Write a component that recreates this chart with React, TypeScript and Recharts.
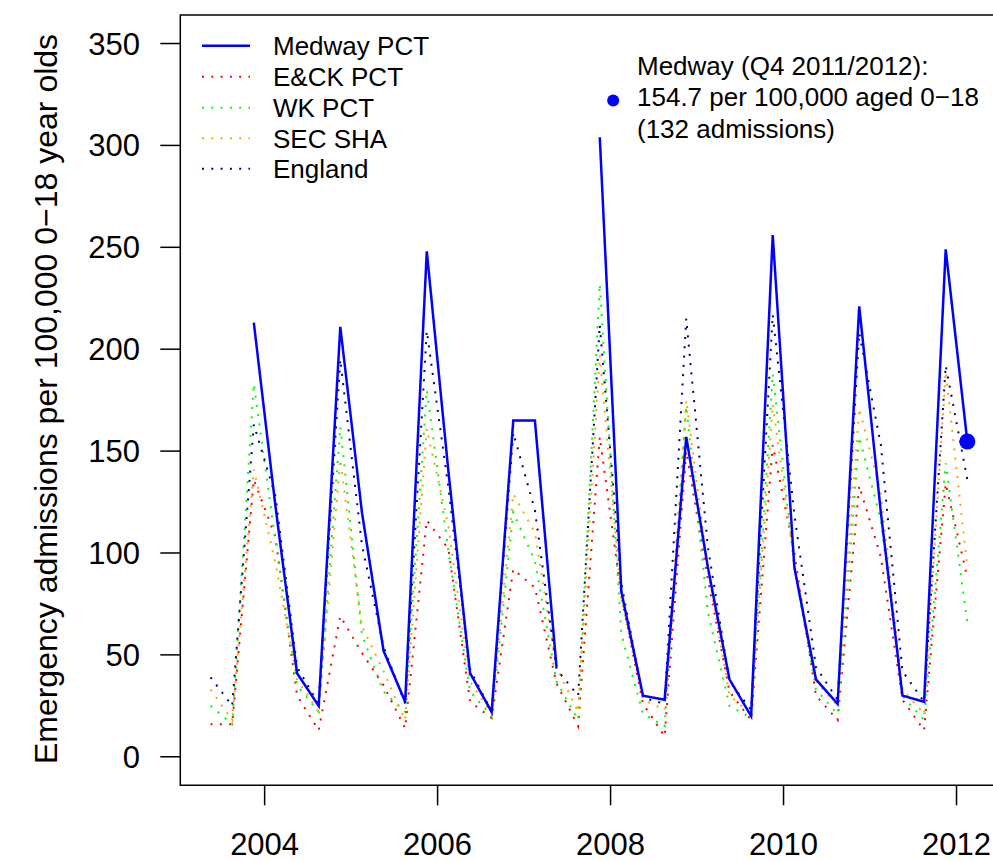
import React from "react";
import { LineChart, Line, XAxis, YAxis, ReferenceArea, ReferenceDot, Legend } from "recharts";

const quarters = [
  2003.375, 2003.625, 2003.875, 2004.125, 2004.375, 2004.625, 2004.875, 2005.125,
  2005.375, 2005.625, 2005.875, 2006.125, 2006.375, 2006.625, 2006.875, 2007.125,
  2007.375, 2007.625, 2007.875, 2008.125, 2008.375, 2008.625, 2008.875, 2009.125,
  2009.375, 2009.625, 2009.875, 2010.125, 2010.375, 2010.625, 2010.875, 2011.125,
  2011.375, 2011.625, 2011.875, 2012.125,
];

const medway = [null, null, 213, 123, 41, 25, 211, 120, 52, 27, 248, 140, 41, 22, 165, 165, 44, null, 304, 81, 30, 28, 157, 93, 38, 20, 256, 93, 38, 26, 221, 120, 30, 27, 249, 154.7];
const eck = [16, 16, 136, 108, 30, 13, 69, 51, 35, 14, 116, 102, 27, 19, 92, 83, 36, 15, 157, 79, 26, 10, 150, 87, 32, 18, 153, 100, 30, 18, 133, 98, 28, 13, 134, 88];
const wk = [25, 16, 183, 106, 35, 22, 162, 60, 32, 22, 180, 101, 32, 20, 120, 96, 37, 18, 232, 60, 21, 15, 172, 71, 25, 19, 188, 93, 33, 21, 157, 116, 30, 18, 144, 66];
const sec = [33, 18, 141, 95, 38, 22, 146, 64, 42, 18, 161, 113, 37, 21, 129, 110, 44, 22, 197, 77, 28, 23, 175, 92, 30, 21, 173, 95, 37, 25, 171, 129, 33, 21, 189, 93];
const england = [39, 25, 163, 128, 44, 26, 195, 104, 54, 26, 209, 132, 43, 22, 159, 121, 43, 30, 212, 85, 29, 26, 215, 103, 37, 23, 217, 119, 44, 28, 208, 153, 42, 27, 192, 136];

const xTicks = [2004, 2006, 2008, 2010, 2012];
const yTicks = [0, 50, 100, 150, 200, 250, 300, 350];
const xDomain = [2003.025, 2012.475];
const yDomain = [-14, 364];

const yLabel = "Emergency admissions per 100,000 0\u221218 year olds";
const annotationLines = ["Medway (Q4 2011/2012):", "154.7 per 100,000 aged 0\u221218", "(132 admissions)"];
const annotationPoint = { x: 2008.03, y: 322 };

const series = [
  { key: "medway", name: "Medway PCT", color: "#0000FF", dash: undefined as string | undefined, width: 2.5 },
  { key: "eck", name: "E&CK PCT", color: "#FF0000", dash: "2 7.3", width: 2 },
  { key: "wk", name: "WK PCT", color: "#00FF00", dash: "2 7.3", width: 2 },
  { key: "sec", name: "SEC SHA", color: "#FFA500", dash: "2 7.3", width: 2 },
  { key: "england", name: "England", color: "#000080", dash: "2 7.3", width: 2 },
];

const data = quarters.map((q, i) => ({
  x: q,
  medway: medway[i],
  eck: eck[i],
  wk: wk[i],
  sec: sec[i],
  england: england[i],
}));

const FONT = "'Liberation Sans', Arial, Helvetica, sans-serif";

const YTick = (props: any) => {
  const { y, payload } = props;
  return (
    <text x={140} y={y + 11} textAnchor="end" fontSize={31} fontFamily={FONT} fill="#000">
      {payload.value}
    </text>
  );
};

const XTick = (props: any) => {
  const { x, payload } = props;
  return (
    <text x={x} y={855} textAnchor="middle" fontSize={31} fontFamily={FONT} fill="#000">
      {payload.value}
    </text>
  );
};

const Overlay = () => {
  const rowY = [45.7, 76.7, 107.7, 138.3, 168.7];
  return (
    <svg width={993} height={861} style={{ position: "absolute", left: 0, top: 0, overflow: "visible" }}>
      {series.map((s, i) => (
        <g key={s.key}>
          <line
            x1={202}
            x2={250}
            y1={rowY[i]}
            y2={rowY[i]}
            stroke={s.color}
            strokeWidth={s.width}
            strokeDasharray={s.dash}
          />
          <text x={273} y={rowY[i] + 9.5} fontSize={26} fontFamily={FONT} fill="#000">
            {s.name}
          </text>
        </g>
      ))}
      {annotationLines.map((t, i) => (
        <text key={i} x={637} y={74.5 + i * 31.5} fontSize={26} fontFamily={FONT} fill="#000">
          {t}
        </text>
      ))}
      <text
        transform="translate(57,399) rotate(-90)"
        textAnchor="middle"
        fontSize={32}
        fontFamily={FONT}
        fill="#000"
      >
        {yLabel}
      </text>
    </svg>
  );
};

export default function App() {
  const last = quarters.length - 1;
  return (
    <div
      style={{
        position: "absolute",
        left: 0,
        top: 0,
        width: 993,
        height: 861,
        overflow: "hidden",
        background: "#fff",
      }}
    >
      <LineChart
        width={1010}
        height={861}
        data={data}
        margin={{ top: 15, right: 12.4, bottom: 0, left: 0 }}
      >
        <XAxis
          dataKey="x"
          type="number"
          domain={xDomain}
          ticks={xTicks}
          allowDataOverflow
          height={75.7}
          tickSize={20}
          axisLine={false}
          tickLine={{ stroke: "#000", strokeWidth: 1.5 }}
          tick={<XTick />}
          interval={0}
        />
        <YAxis
          type="number"
          domain={yDomain}
          ticks={yTicks}
          allowDataOverflow
          width={180.3}
          tickSize={20}
          axisLine={false}
          tickLine={{ stroke: "#000", strokeWidth: 1.5 }}
          tick={<YTick />}
          interval={0}
        />
        {series
          .slice(1)
          .map((s) => (
            <Line
              key={s.key}
              dataKey={s.key}
              name={s.name}
              type="linear"
              stroke={s.color}
              strokeWidth={s.width}
              strokeDasharray={s.dash}
              dot={false}
              activeDot={false}
              isAnimationActive={false}
              connectNulls={false}
            />
          ))}
        <Line
          dataKey="medway"
          name="Medway PCT"
          type="linear"
          stroke="#0000FF"
          strokeWidth={2.5}
          dot={false}
          activeDot={false}
          isAnimationActive={false}
          connectNulls={false}
        />
        <ReferenceDot x={quarters[last]} y={medway[last] as number} r={8} fill="#0000FF" stroke="none" ifOverflow="visible" />
        <ReferenceDot x={annotationPoint.x} y={annotationPoint.y} r={6} fill="#0000FF" stroke="none" ifOverflow="visible" />
        <ReferenceArea
          x1={xDomain[0]}
          x2={xDomain[1]}
          y1={yDomain[0]}
          y2={yDomain[1]}
          fill="none"
          fillOpacity={0}
          stroke="#000"
          strokeWidth={1.5}
          ifOverflow="visible"
        />
        <Legend
          layout="horizontal"
          verticalAlign="middle"
          align="center"
          content={() => <Overlay />}
          wrapperStyle={{ position: "absolute", left: 0, top: 0, width: 993, height: 861, pointerEvents: "none" }}
        />
      </LineChart>
    </div>
  );
}
